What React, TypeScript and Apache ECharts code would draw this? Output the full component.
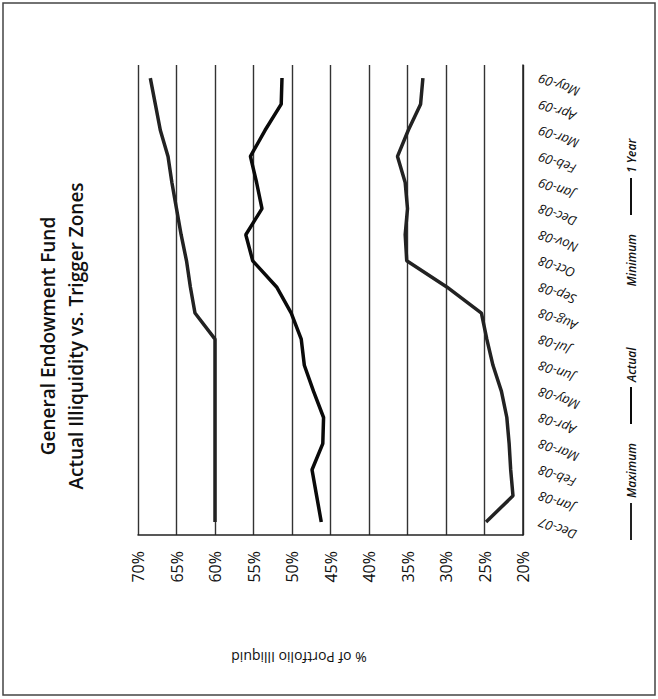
import React, { useEffect, useRef } from 'react';
import * as echarts from 'echarts';

// The original chart is drawn upright and the whole chart is turned 90° counter-clockwise,
// as in the scanned reference.
const categories = [
  'Dec-07', 'Jan-08', 'Feb-08', 'Mar-08', 'Apr-08', 'May-08', 'Jun-08', 'Jul-08', 'Aug-08',
  'Sep-08', 'Oct-08', 'Nov-08', 'Dec-08', 'Jan-09', 'Feb-09', 'Mar-09', 'Apr-09', 'May-09',
];
const maximum = [60, 60, 60, 60, 60, 60, 60, 60, 62.6, 63.2, 63.7, 64.4, 65.0, 65.6, 66.1, 67.1, 67.75, 68.4];
const actual = [46.2, 46.8, 47.4, 46.0, 45.9, 47.2, 48.4, 48.8, 50.1, 52.0, 55.1, 56.0, 53.9, 54.6, 55.4, 53.5, 51.4, 51.3];
const minimum = [24.8, 21.3, 21.6, 21.8, 22.1, 22.8, 23.9, 24.7, 25.4, 29.9, 35.1, 35.3, 35.0, 35.3, 36.3, 34.9, 33.3, 33.0];
const oneYear: (number | null)[] = [];
const valueTicks = { min: 20, max: 70, interval: 5 };

const FONT = '"Open Sans", sans-serif';

export default function App() {
  const ref = useRef<HTMLDivElement>(null);
  useEffect(() => {
    const chart = echarts.init(ref.current!, null, { renderer: 'svg' });
    chart.setOption({
      animation: false,
      backgroundColor: '#ffffff',
      textStyle: { fontFamily: FONT },
      grid: { left: 164, right: 65, top: 138, bottom: 135, containLabel: false },
      xAxis: {
        type: 'category',
        data: categories,
        boundaryGap: true,
        axisLine: { show: true, lineStyle: { color: '#222', width: 1.5 } },
        axisTick: { show: false },
        axisLabel: { rotate: 70, margin: 16, fontSize: 13, color: '#111', fontFamily: FONT, fontStyle: 'italic', interval: 0 },
        splitLine: { show: false },
      },
      yAxis: {
        type: 'value',
        min: valueTicks.min,
        max: valueTicks.max,
        interval: valueTicks.interval,
        axisLine: { show: true, lineStyle: { color: '#222', width: 1.5 } },
        axisTick: { show: false },
        axisLabel: { formatter: (v: number) => `${v}%`, fontSize: 16, color: '#111', margin: 16, fontFamily: FONT },
        splitLine: { show: true, lineStyle: { color: '#333', width: 1.4 } },
      },
      legend: {
        left: 159,
        top: 625,
        padding: 0,
        itemWidth: 37,
        itemHeight: 2,
        itemGap: 19,
        icon: 'rect',
        textStyle: { fontSize: 12, fontStyle: 'italic', fontWeight: 600, color: '#111', fontFamily: FONT },
        data: [
          { name: 'Maximum' },
          { name: 'Actual' },
          { name: 'Minimum', icon: 'none', itemStyle: { opacity: 0 } },
          { name: '1 Year' },
        ],
      },
      graphic: [
        {
          type: 'rect',
          shape: { x: 4, y: 3, width: 692, height: 652 },
          style: { fill: 'none', stroke: '#444', lineWidth: 1.5 },
          silent: true,
        },
        {
          type: 'text',
          x: 363,
          y: 34,
          style: {
            text: 'General Endowment Fund\nActual Illiquidity vs. Trigger Zones',
            align: 'center',
            verticalAlign: 'top',
            fontSize: 19,
            fontWeight: 600,
            lineHeight: 28,
            fontFamily: FONT,
            fill: '#111',
          },
        },
        {
          type: 'text',
          x: 42,
          y: 299,
          rotation: Math.PI / 2,
          style: {
            text: '% of Portfolio Illiquid',
            align: 'center',
            verticalAlign: 'middle',
            fontSize: 14,
            fontFamily: FONT,
            fill: '#111',
          },
        },
      ],
      series: [
        { name: 'Maximum', type: 'line', data: maximum, symbol: 'none', lineStyle: { color: '#222', width: 3.5 }, itemStyle: { color: '#222' } },
        { name: 'Actual', type: 'line', data: actual, symbol: 'none', lineStyle: { color: '#0a0a0a', width: 3.5 }, itemStyle: { color: '#0a0a0a' } },
        { name: 'Minimum', type: 'line', data: minimum, symbol: 'none', lineStyle: { color: '#222', width: 3.5 }, itemStyle: { color: '#222' } },
        { name: '1 Year', type: 'line', data: oneYear, symbol: 'none', lineStyle: { color: '#111', width: 2 }, itemStyle: { color: '#111' } },
      ],
    });
    return () => chart.dispose();
  }, []);
  return (
    <div style={{ position: 'absolute', left: 0, top: 0, width: 658, height: 699, overflow: 'hidden', background: '#fff' }}>
      <div
        ref={ref}
        style={{
          position: 'absolute',
          left: 0,
          top: 0,
          width: 699,
          height: 658,
          transformOrigin: '0 0',
          transform: 'translateY(699px) rotate(-90deg)',
        }}
      />
    </div>
  );
}
